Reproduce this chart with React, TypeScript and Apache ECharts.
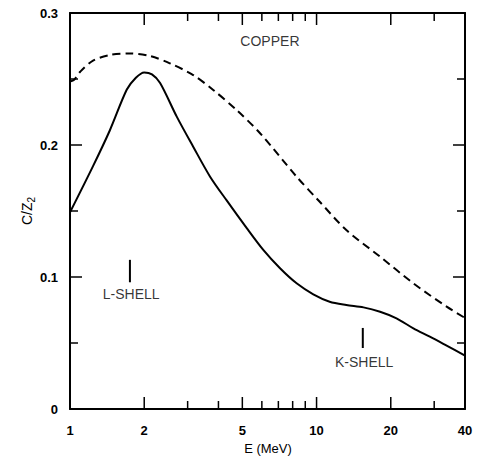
import React, { useEffect, useRef } from "react";
import * as echarts from "echarts";

// Energy (MeV) and C/Z2 values
const solidE = [1, 1.24, 1.45, 1.7, 1.85, 2.0, 2.15, 2.32, 2.71, 3.16, 3.7, 4.32, 5.21, 6.08, 7.11, 8.3, 9.7, 11.3, 13.2, 15.5, 18.1, 21.1, 24.7, 28.8, 33.7, 40];
const solidV = [0.149, 0.184, 0.211, 0.242, 0.251, 0.255, 0.2535, 0.247, 0.2215, 0.1987, 0.176, 0.158, 0.137, 0.1205, 0.1066, 0.0952, 0.0869, 0.0813, 0.0788, 0.077, 0.0737, 0.0687, 0.0611, 0.0548, 0.048, 0.0405];

const dashE = [1, 1.04, 1.1, 1.24, 1.45, 1.75, 2.11, 2.54, 3.16, 3.81, 4.74, 5.9, 8.3, 10.3, 13.2, 18.1, 24.7, 33.7, 40];
const dashV = [0.248, 0.2495, 0.2555, 0.2639, 0.2682, 0.2694, 0.2674, 0.2619, 0.253, 0.2417, 0.2265, 0.2089, 0.176, 0.157, 0.1356, 0.1154, 0.0952, 0.0775, 0.069];

const xMajorTicks = [2, 5, 10, 20];
const xMinorTicks = [3, 4, 6, 7, 8, 9, 30];
const xLabels = [1, 2, 5, 10, 20, 40];
const yMajorTicks = [0.1, 0.2];
const yMinorTicks = [0.05, 0.15, 0.25];

// annotations: [E, value]
const lShellBar = [[1.75, 0.113], [1.75, 0.096]];
const kShellBar = [[15.4, 0.0614], [15.4, 0.0462]];
const notes = [
  { name: "COPPER", value: [6.47, 0.2788] },
  { name: "L-SHELL", value: [1.77, 0.0871] },
  { name: "K-SHELL", value: [15.6, 0.0356] },
];

const xTitle = "E (MeV)";
const yTitle = "C/Z{sub|2}";

const FONT = "'Liberation Sans', Arial, sans-serif";
const X_MIN = 1;
const X_MAX = 40;
const Y_MIN = 0;
const Y_MAX = 0.3;

export default function App() {
  const ref = useRef<HTMLDivElement>(null);
  useEffect(() => {
    if (!ref.current) return;
    const chart = echarts.init(ref.current, undefined, { renderer: "svg" });
    const axisLine = { show: true, onZero: false, lineStyle: { color: "#000", width: 2 } };
    const baseX = { type: "log", logBase: 10, min: X_MIN, max: X_MAX, splitLine: { show: false }, axisTick: { show: false }, minorTick: { show: false } };
    const baseY = { type: "value", min: Y_MIN, max: Y_MAX, interval: 0.1, splitLine: { show: false }, axisTick: { show: false }, minorTick: { show: false } };
    const tickStroke = { stroke: "#000", lineWidth: 1.5 };

    // inside tick marks on both opposite axes, placed through the axes' scales
    const xTickSeries = (ticks: number[], len: number) => ({
      type: "custom",
      xAxisIndex: 0,
      yAxisIndex: 0,
      silent: true,
      clip: false,
      data: ticks.map((t) => [t, Y_MIN]),
      renderItem: (params: any, api: any) => {
        const b = api.coord([api.value(0), Y_MIN]);
        const t = api.coord([api.value(0), Y_MAX]);
        return {
          type: "group",
          children: [
            { type: "line", shape: { x1: b[0], y1: b[1], x2: b[0], y2: b[1] - len }, style: tickStroke },
            { type: "line", shape: { x1: t[0], y1: t[1], x2: t[0], y2: t[1] + len }, style: tickStroke },
          ],
        };
      },
    });
    const yTickSeries = (ticks: number[], len: number) => ({
      type: "custom",
      xAxisIndex: 0,
      yAxisIndex: 0,
      silent: true,
      clip: false,
      data: ticks.map((t) => [X_MIN, t]),
      renderItem: (params: any, api: any) => {
        const l = api.coord([X_MIN, api.value(1)]);
        const r = api.coord([X_MAX, api.value(1)]);
        return {
          type: "group",
          children: [
            { type: "line", shape: { x1: l[0], y1: l[1], x2: l[0] + len, y2: l[1] }, style: tickStroke },
            { type: "line", shape: { x1: r[0], y1: r[1], x2: r[0] - len, y2: r[1] }, style: tickStroke },
          ],
        };
      },
    });

    chart.setOption({
      animation: false,
      grid: { left: 70, right: 16, top: 13, bottom: 55 },
      graphic: [
        {
          type: "text",
          x: 268,
          y: 448,
          silent: true,
          style: { text: xTitle, fill: "#000", fontSize: 13, fontFamily: FONT, align: "center", verticalAlign: "middle" },
        },
        {
          type: "text",
          x: 27,
          y: 211,
          rotation: Math.PI / 2,
          silent: true,
          style: {
            text: yTitle,
            fill: "#000",
            fontSize: 14,
            fontFamily: FONT,
            align: "center",
            verticalAlign: "middle",
            lineHeight: 18,
            rich: {
              sub: { fontSize: 10, fontFamily: FONT, fill: "#000", verticalAlign: "bottom", lineHeight: 18, padding: [8, 0, 0, 0] },
            },
          },
        },
      ],
      xAxis: [
        {
          ...baseX,
          position: "bottom",
          axisLine,
          axisLabel: { show: true, customValues: xLabels, margin: 15, color: "#000", fontSize: 13, fontWeight: "bold", fontFamily: FONT },
        },
        {
          ...baseX,
          position: "top",
          axisLine,
          axisLabel: { show: false },
        },
      ],
      yAxis: [
        {
          ...baseY,
          position: "left",
          axisLine,
          axisLabel: { margin: 12, color: "#000", fontSize: 13, fontWeight: "bold", fontFamily: FONT },
        },
        {
          ...baseY,
          position: "right",
          axisLine,
          axisLabel: { show: false },
        },
      ],
      series: [
        {
          type: "line",
          xAxisIndex: 0,
          yAxisIndex: 0,
          smooth: 0.3,
          symbol: "none",
          lineStyle: { color: "#000", width: 2 },
          data: solidE.map((e, i) => [e, solidV[i]]),
        },
        {
          type: "line",
          xAxisIndex: 0,
          yAxisIndex: 0,
          smooth: 0.3,
          symbol: "none",
          lineStyle: { color: "#000", width: 2, type: [8, 5] },
          data: dashE.map((e, i) => [e, dashV[i]]),
        },
        {
          type: "line",
          xAxisIndex: 0,
          yAxisIndex: 0,
          symbol: "none",
          lineStyle: { color: "#000", width: 2 },
          data: lShellBar,
        },
        {
          type: "line",
          xAxisIndex: 0,
          yAxisIndex: 0,
          symbol: "none",
          lineStyle: { color: "#000", width: 2 },
          data: kShellBar,
        },
        xTickSeries(xMajorTicks, 12),
        xTickSeries(xMinorTicks, 8),
        yTickSeries(yMajorTicks, 12),
        yTickSeries(yMinorTicks, 8),
        {
          type: "scatter",
          xAxisIndex: 0,
          yAxisIndex: 0,
          symbolSize: 0,
          silent: true,
          label: {
            show: true,
            position: "inside",
            formatter: "{b}",
            color: "#000",
            fontSize: 14,
            fontFamily: FONT,
          },
          data: notes,
        },
      ],
    });
    return () => chart.dispose();
  }, []);
  return <div ref={ref} style={{ width: 481, height: 464, margin: -8 }} />;
}
